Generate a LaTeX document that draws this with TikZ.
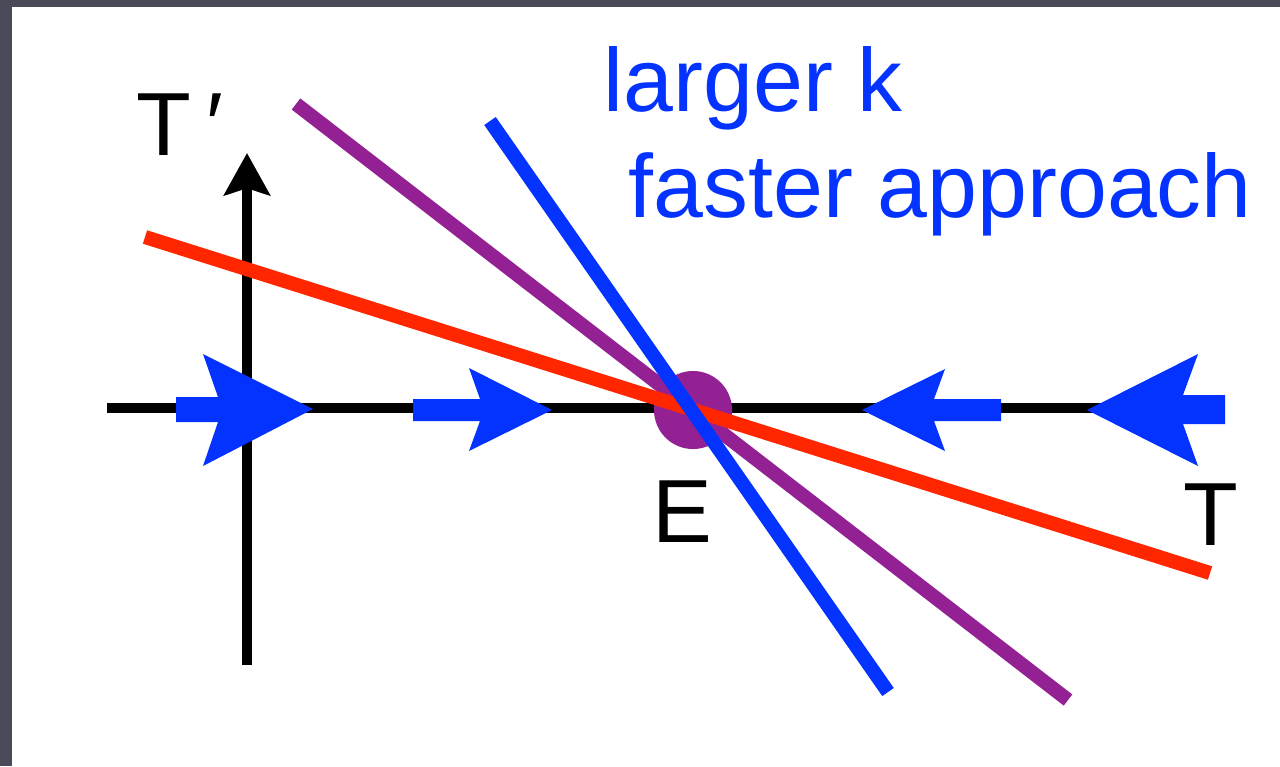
\documentclass[tikz,border=0pt]{standalone}
\usepackage{fontspec}
\setmainfont{Liberation Sans}
\usetikzlibrary{arrows.meta}
\definecolor{kblue}{HTML}{0433FF}
\definecolor{kred}{HTML}{FF2600}
\definecolor{kpurple}{HTML}{942193}
\definecolor{kframe}{HTML}{4A4B58}
\tikzset{axisline/.style={line width=2.85pt,black},
  flow/.style={fill=kblue},
  rateline/.style={line width=4pt},
  lab/.style={font=\fontsize{25.5}{30}\selectfont,inner sep=0pt},
  note/.style={font=\fontsize{25.5}{30}\selectfont,inner sep=0pt,text=kblue}}

\begin{document}
\begin{tikzpicture}[x=0.01cm,y=-0.01cm]
\fill[kframe](0,0)rectangle(1280,766);\fill[white](12,7)rectangle(1280,766);
\useasboundingbox(0,0)rectangle(1280,766);
% axes
\coordinate(tl)at(107,408);\coordinate(tr)at(1150,408);\coordinate(vb)at(247,665);\coordinate(vt)at(247,153);
\draw[axisline](tl)--(tr);\draw[axisline,-{Stealth[length=12pt,width=13pt,inset=2pt]}](vb)--(vt);
% flow arrows on the T axis
\fill[flow](176,397)--(218,397)--(203,354)--(313,409)--(203,466)--(218,422)--(176,422)--cycle;
\fill[flow](413,399)--(480,399)--(469,368)--(552,410)--(469,451)--(480,421)--(413,421)--cycle;
\fill[flow](1001,399)--(934,399)--(945,369)--(862,410)--(945,451)--(934,421)--(1001,421)--cycle;
\fill[flow](1225,395)--(1183,395)--(1198,354)--(1087,410)--(1198,466)--(1183,424)--(1225,424)--cycle;
% equilibrium and the three lines
\fill[kpurple](693,410)circle[radius=0.39cm];
\coordinate(p1)at(296,104);\coordinate(p2)at(1068,700);\coordinate(r1)at(145,237);\coordinate(r2)at(1210,573);\coordinate(b1)at(490,121);\coordinate(b2)at(888,692);
\draw[rateline,kpurple](p1)--(p2);\draw[rateline,kred](r1)--(r2);\draw[rateline,kblue](b1)--(b2);
% labels
\node[lab,anchor=base west](tp)at(136,155){T\,′};\node[lab,anchor=base](eq)at(682,542){E};\node[lab,anchor=base](tt)at(1211,545){T};
\node[note,anchor=base west](lk)at(603,111){larger k};\node[note,anchor=base west](fa)at(628,217){faster approach};
\end{tikzpicture}
\end{document}
